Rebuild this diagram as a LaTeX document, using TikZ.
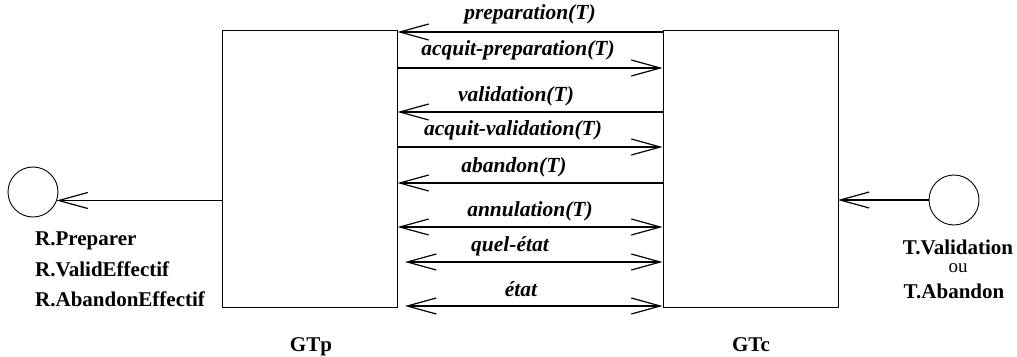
\documentclass[tikz,border=0pt]{standalone}
\usepackage{fontspec}
\setmainfont{Liberation Serif}
\usetikzlibrary{arrows.meta,calc}
\tikzset{
  box/.style={draw,line width=0.9pt,minimum width=175pt,minimum height=277pt,inner sep=0pt},
  tip/.tip={Straight Barb[length=29pt,width=16pt,line width=1.2pt]},
  msg/.style={line width=1.4pt,-tip},
  bmsg/.style={line width=1.4pt,tip-tip},
  lbl/.style={font=\fontsize{21.5}{23}\selectfont\bfseries\itshape,inner sep=0pt},
  nm/.style={font=\fontsize{21}{23}\selectfont\bfseries,inner sep=0pt},
  circ/.style={draw,circle,minimum size=50pt,inner sep=0pt,line width=0.9pt}
}
\begin{document}
\begin{tikzpicture}[x=1pt,y=-1pt]
\useasboundingbox (0,0) rectangle (1017,356);
\node[box] (p) at (309.5,168.5) {};
\node[box] (c) at (750.5,168.5) {};
\node[circ] (rc) at (33,192) {};
\node[circ] (tc) at (954,200) {};
% messages
\coordinate (a1) at (397,32);
\draw[msg] (c.west |- a1) -- (p.east |- a1);
\node[lbl] (l1) at (530,14) {preparation(T)};
\coordinate (a2) at (397,68);
\draw[msg] (p.east |- a2) -- (c.west |- a2);
\node[lbl] (l2) at (518,50) {acquit-preparation(T)};
\coordinate (a3) at (397,112);
\draw[msg] (c.west |- a3) -- (p.east |- a3);
\node[lbl] (l3) at (516,96) {validation(T)};
\coordinate (a4) at (397,147);
\draw[msg] (p.east |- a4) -- (c.west |- a4);
\node[lbl] (l4) at (513,130) {acquit-validation(T)};
\coordinate (a5) at (397,183);
\draw[msg] (c.west |- a5) -- (p.east |- a5);
\node[lbl] (l5) at (514,167) {abandon(T)};
\coordinate (a6) at (397,227);
\draw[bmsg] (p.east |- a6) -- (c.west |- a6);
\node[lbl] (l6) at (530,211) {annulation(T)};
\coordinate (a7) at (405,262);
\draw[bmsg] (a7) -- (c.west |- a7);
\node[lbl] (l7) at (510,246) {quel-\'etat};
\coordinate (a8) at (405,306);
\draw[bmsg] (a8) -- (c.west |- a8);
\node[lbl] (l8) at (521,289) {\'etat};
% side arrows
\coordinate (s1) at (222,200.5);
\coordinate (rp) at (56.5,200.5);
\draw[msg] (s1) -- (rp);
\coordinate (s2) at (838,200);
\draw[msg] (tc.west) -- (s2);
% labels
\node[nm,anchor=base west] (r1) at (35,245) {R.Preparer};
\node[nm,anchor=base west] (r2) at (35,276) {R.ValidEffectif};
\node[nm,anchor=base west] (r3) at (35,306) {R.AbandonEffectif};
\node[nm,anchor=base] (t1) at (958,254) {T.Validation};
\node[font=\fontsize{19}{21}\selectfont,inner sep=0pt,anchor=base] (t2) at (958,272) {ou};
\node[nm,anchor=base] (t3) at (954,298) {T.Abandon};
\node[nm,anchor=base] (gp) at (311,351) {GTp};
\node[nm,anchor=base] (gc) at (751,351) {GTc};
\end{tikzpicture}
\end{document}
